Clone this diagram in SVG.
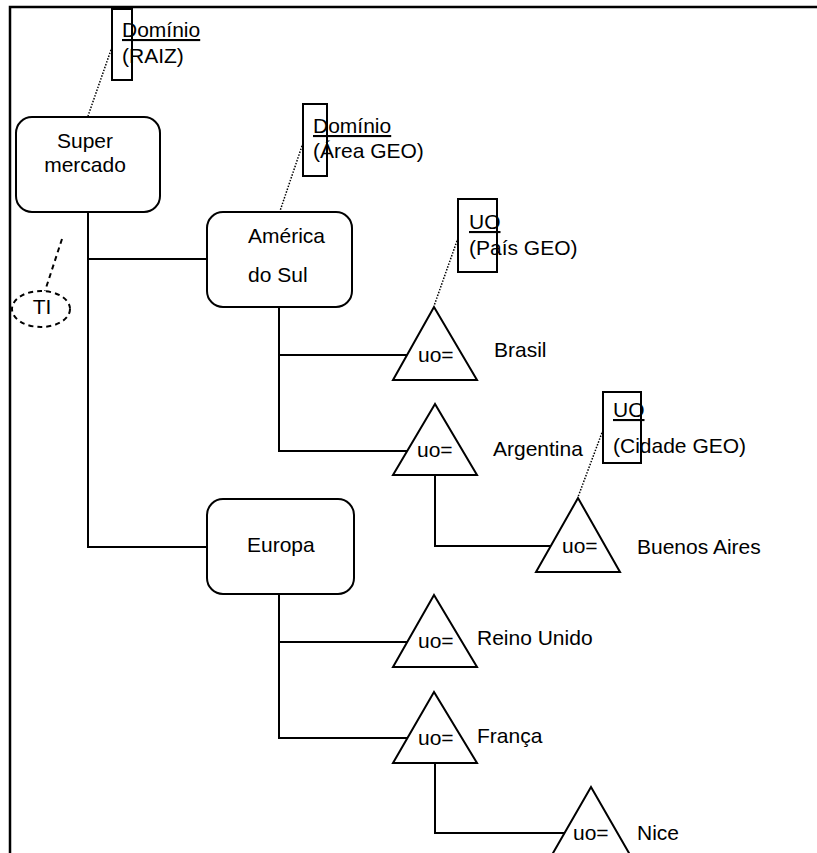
<svg xmlns="http://www.w3.org/2000/svg" width="817" height="853" viewBox="0 0 817 853">
  <style>
    text { font-family: "Liberation Sans", Arial, sans-serif; font-size: 21px; fill: #000; }
    .box { fill: #fff; stroke: #000; stroke-width: 2; }
    .tri { fill: #fff; stroke: #000; stroke-width: 2; stroke-linejoin: miter; }
    .conn { fill: none; stroke: #000; stroke-width: 2; }
    .tag { fill: none; stroke: #000; stroke-width: 2; }
    .dot { fill: none; stroke: #000; stroke-width: 1.5; stroke-dasharray: 1.5 1.5; }
    .dash { fill: none; stroke: #000; stroke-width: 2; stroke-dasharray: 5 4; }
    .u { text-decoration: underline; }
  </style>

  <!-- page frame -->
  <path d="M10 853 V7 H817" fill="none" stroke="#000" stroke-width="2.5"/>

  <!-- tree connectors -->
  <g id="connectors">
    <path class="conn" d="M88 212 V547 H207"/>
    <path class="conn" d="M88 259 H207"/>
    <path class="conn" d="M279 307 V451 H407"/>
    <path class="conn" d="M279 355 H407"/>
    <path class="conn" d="M435 475 V546 H551"/>
    <path class="conn" d="M279 594 V738 H407"/>
    <path class="conn" d="M279 642 H407"/>
    <path class="conn" d="M435 763 V833 H564"/>
    <!-- annotation leaders -->
    <line class="dot" x1="112" y1="47" x2="88" y2="116"/>
    <line class="dot" x1="303" y1="143" x2="280" y2="211"/>
    <line class="dot" x1="458" y1="238" x2="434" y2="306"/>
    <line class="dot" x1="603" y1="430" x2="578" y2="497"/>
    <line class="dash" x1="62" y1="239" x2="45" y2="291"/>
  </g>

  <!-- domain nodes -->
  <g id="supermercado">
    <rect class="box" x="16" y="117" width="144" height="95" rx="16" ry="16"/>
    <text x="85" y="148" text-anchor="middle">Super</text>
    <text x="85" y="172" text-anchor="middle">mercado</text>
  </g>
  <g id="america-do-sul">
    <rect class="box" x="207" y="212" width="145" height="95" rx="16" ry="16"/>
    <text x="248" y="243">América</text>
    <text x="248" y="282">do Sul</text>
  </g>
  <g id="europa">
    <rect class="box" x="207" y="499" width="147" height="95" rx="16" ry="16"/>
    <text x="247" y="552">Europa</text>
  </g>

  <!-- organisational units -->
  <g id="brasil">
    <polygon class="tri" points="434,307 393,380 477,380"/>
    <text x="418" y="362">uo=</text>
    <text x="494" y="357">Brasil</text>
  </g>
  <g id="argentina">
    <polygon class="tri" points="435,404 393,475 477,475"/>
    <text x="417" y="457">uo=</text>
    <text x="493" y="456">Argentina</text>
  </g>
  <g id="buenos-aires">
    <polygon class="tri" points="578,498 536,572 620,572"/>
    <text x="562" y="553">uo=</text>
    <text x="637" y="554">Buenos Aires</text>
  </g>
  <g id="reino-unido">
    <polygon class="tri" points="434,595 393,667 477,667"/>
    <text x="418" y="648">uo=</text>
    <text x="477" y="645">Reino Unido</text>
  </g>
  <g id="franca">
    <polygon class="tri" points="434,692 393,763 477,763"/>
    <text x="418" y="745">uo=</text>
    <text x="477" y="743">França</text>
  </g>
  <g id="nice">
    <polygon class="tri" points="591,787 549,860 633,860"/>
    <text x="573" y="840">uo=</text>
    <text x="637" y="840">Nice</text>
  </g>

  <!-- type annotations -->
  <g id="tag-raiz">
    <rect class="tag" x="112" y="9" width="20" height="71"/>
    <text x="122" y="37" class="u">Domínio</text>
    <text x="122" y="63">(RAIZ)</text>
  </g>
  <g id="tag-area">
    <rect class="tag" x="303" y="104" width="24" height="72"/>
    <text x="313" y="133" class="u">Domínio</text>
    <text x="313" y="158">(Área GEO)</text>
  </g>
  <g id="tag-pais">
    <rect class="tag" x="458" y="199" width="39" height="73"/>
    <text x="469" y="229" class="u">UO</text>
    <text x="469" y="255">(País GEO)</text>
  </g>
  <g id="tag-cidade">
    <rect class="tag" x="603" y="392" width="38" height="71"/>
    <text x="613" y="417" class="u">UO</text>
    <text x="613" y="453">(Cidade GEO)</text>
  </g>
  <g id="ti">
    <ellipse class="dash" cx="41" cy="309" rx="29" ry="18"/>
    <text x="42" y="314" text-anchor="middle">TI</text>
  </g>
</svg>
